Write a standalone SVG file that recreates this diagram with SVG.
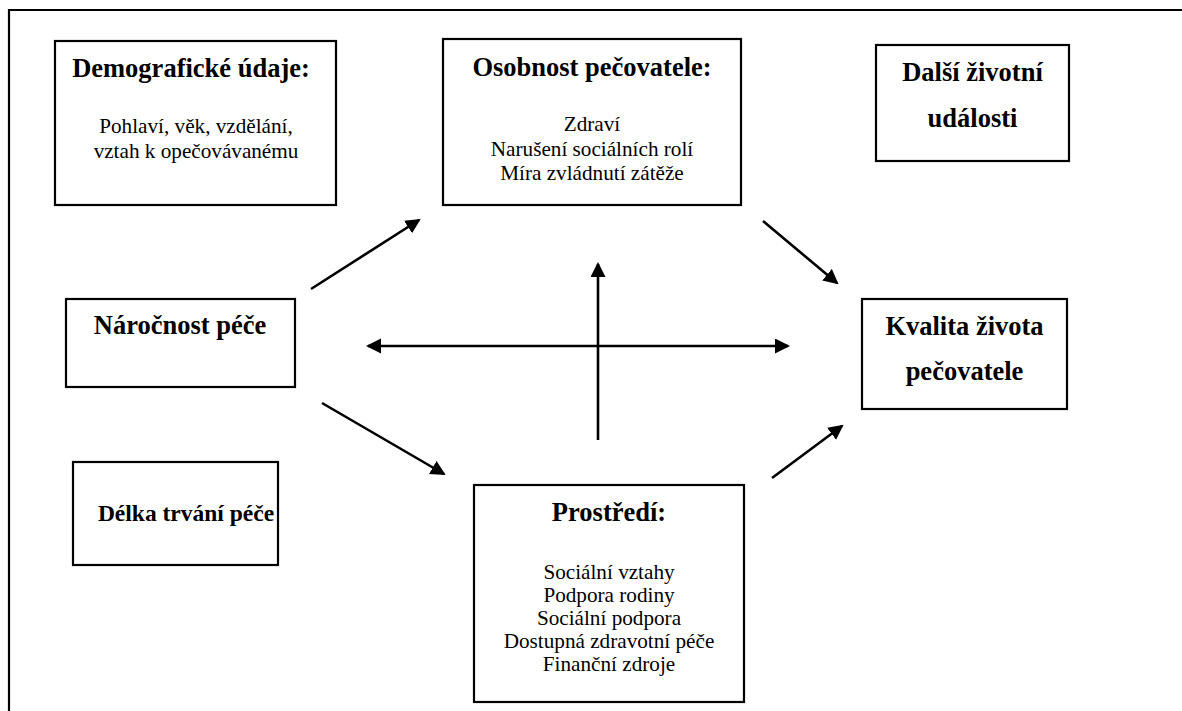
<svg xmlns="http://www.w3.org/2000/svg" width="1182" height="711" viewBox="0 0 1182 711">
<style>
.box{fill:#fff;stroke:#000;stroke-width:2.2}
.t{font-family:"Liberation Serif","Times New Roman",serif;font-weight:bold;font-size:26.5px;text-anchor:middle;fill:#000}
.b{font-family:"Liberation Serif","Times New Roman",serif;font-size:21.2px;text-anchor:middle;fill:#000}
.c{stroke:#000;stroke-width:2.6;fill:none}
</style>
<defs>
<marker id="ah" markerUnits="userSpaceOnUse" markerWidth="16" markerHeight="16" refX="13" refY="7.5" orient="auto-start-reverse">
<path d="M0,0 L15,7.5 L0,15 Z" fill="#000"/>
</marker>
</defs>
<rect width="1182" height="711" fill="#fff"/>
<path d="M9,711 V10 H1182" fill="none" stroke="#000" stroke-width="2.2"/>
<g id="connectors">
<line class="c" x1="311" y1="289" x2="419" y2="220" marker-end="url(#ah)"/>
<line class="c" x1="763" y1="221" x2="837" y2="283" marker-end="url(#ah)"/>
<line class="c" x1="322" y1="403" x2="444" y2="474" marker-end="url(#ah)"/>
<line class="c" x1="772" y1="478" x2="842" y2="426" marker-end="url(#ah)"/>
<line class="c" x1="598" y1="440" x2="598" y2="264" marker-end="url(#ah)"/>
<line class="c" x1="368" y1="346" x2="788" y2="346" marker-start="url(#ah)" marker-end="url(#ah)"/>
</g>
<g id="demograficke">
<rect class="box" x="55" y="41" width="281" height="164"/>
<text class="t" x="191" y="77">Demografické údaje:</text>
<text class="b" x="196" y="133">Pohlaví, věk, vzdělání,</text>
<text class="b" x="196" y="158">vztah k opečovávanému</text>
</g>
<g id="osobnost">
<rect class="box" x="443" y="39" width="298" height="166"/>
<text class="t" x="592" y="76">Osobnost pečovatele:</text>
<text class="b" x="592" y="131">Zdraví</text>
<text class="b" x="592" y="156">Narušení sociálních rolí</text>
<text class="b" x="592" y="180">Míra zvládnutí zátěže</text>
</g>
<g id="dalsi">
<rect class="box" x="876" y="45" width="193" height="116"/>
<text class="t" x="972.5" y="81">Další životní</text>
<text class="t" x="972.5" y="127">události</text>
</g>
<g id="narocnost">
<rect class="box" x="66" y="299" width="229" height="88"/>
<text class="t" x="180" y="334">Náročnost péče</text>
</g>
<g id="kvalita">
<rect class="box" x="862" y="299" width="205" height="110"/>
<text class="t" x="964.5" y="335">Kvalita života</text>
<text class="t" x="964.5" y="380">pečovatele</text>
</g>
<g id="delka">
<rect class="box" x="73" y="462" width="205" height="103"/>
<text class="t" x="186" y="521" style="font-size:23.5px">Délka trvání péče</text>
</g>
<g id="prostredi">
<rect class="box" x="474" y="485" width="270" height="217"/>
<text class="t" x="609" y="521">Prostředí:</text>
<text class="b" x="609" y="579">Sociální vztahy</text>
<text class="b" x="609" y="602">Podpora rodiny</text>
<text class="b" x="609" y="625">Sociální podpora</text>
<text class="b" x="609" y="648">Dostupná zdravotní péče</text>
<text class="b" x="609" y="671">Finanční zdroje</text>
</g>
</svg>
